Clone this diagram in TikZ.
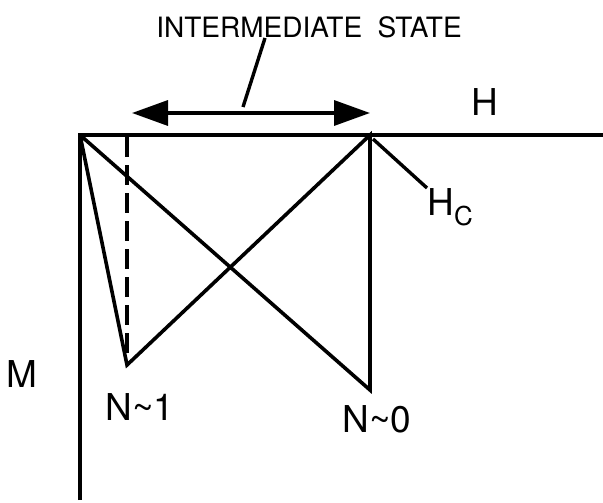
\documentclass[tikz,border=0pt]{standalone}
\usepackage{fontspec}
\setmainfont{TeX Gyre Heros}
\usetikzlibrary{arrows.meta}

\begin{document}
\begin{tikzpicture}[x=0.5pt,y=-0.5pt,
   axis/.style={line width=1.9pt},
   branch/.style={line width=1.8pt,line join=miter},
   lead/.style={line width=1.7pt},
   lbl/.style={font=\fontsize{18.5}{20}\selectfont,inner sep=0pt},
   title/.style={font=\fontsize{14}{16}\selectfont,inner sep=0pt},
   >={Triangle[length=18pt,width=12.5pt]},
]
\useasboundingbox (0,0) rectangle (603,502);

% axes
\coordinate (O)    at (80,135);
\coordinate (hend) at (603,135);
\coordinate (mend) at (80,500);
\draw[axis] (mend) -- (O) -- (hend);

% branch points
\coordinate (hc)  at (370,135);
\coordinate (n1)  at (127,365);
\coordinate (n0)  at (370,390);
\coordinate (dtop) at (127,137);

\draw[branch] (O) -- (n1) -- (hc) -- (n0) -- (O);
\draw[branch,dash pattern=on 10pt off 4pt] (dtop) -- (n1);

% intermediate state
\coordinate (al) at (132,113);
\coordinate (ar) at (370,113);
\draw[lead,<->] (al) -- (ar);
\node[title,anchor=north] (istate) at (309,16) {INTERMEDIATE\hspace{0.55em}STATE};
\coordinate (ltop) at (265,38);
\coordinate (lbot) at (243,107);
\draw[lead] (ltop) -- (lbot);

% labels
\node[lbl,anchor=north] (hlbl)  at (485,88)  {H};
\node[lbl,anchor=north] (mlbl)  at (22,360)  {M};
\node[lbl,anchor=north] (n1lbl) at (140,393) {N\textasciitilde1};
\node[lbl,anchor=north] (n0lbl) at (377,405) {N\textasciitilde0};
\node[lbl,anchor=north west] (hclbl) at (427,188)
      {H\raisebox{-5pt}{\fontsize{13}{13}\selectfont C}};
\coordinate (hcfoot) at (373,139);
\draw[lead] (hcfoot) -- (hclbl.north west);
\end{tikzpicture}
\end{document}
